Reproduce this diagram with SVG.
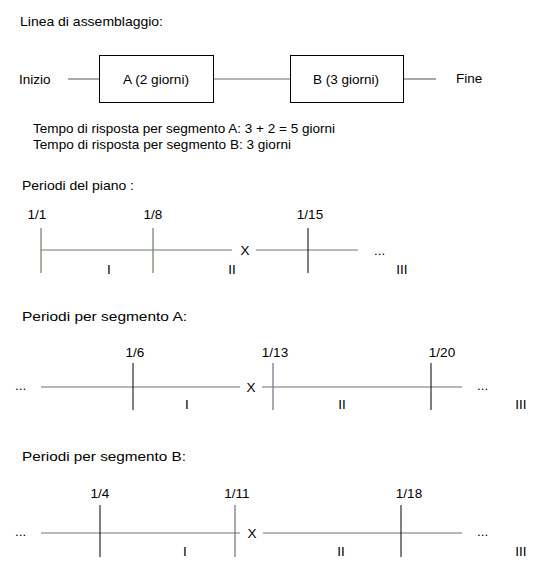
<svg xmlns="http://www.w3.org/2000/svg" width="540" height="570" viewBox="0 0 540 570">
<style>
text{font-family:"Liberation Sans",Arial,sans-serif;font-size:13.5px;fill:#000}
.box{fill:#fff;stroke:#000;stroke-width:1}
.ln{stroke:#6e6e6e;stroke-width:1.2;fill:none}
.g{stroke:#6b7d62}
.p{stroke:#7a6a82}
.k{stroke:#000;stroke-width:1;fill:none}
.m{text-anchor:middle}
</style>
<rect width="540" height="570" fill="#fff"/>
<text x="20" y="26" textLength="143" lengthAdjust="spacingAndGlyphs">Linea di assemblaggio:</text>
<g id="connectors">
<line class="ln p" x1="68" y1="79" x2="99" y2="79"/>
<line class="ln" x1="214" y1="79" x2="290" y2="79"/>
<line class="ln" x1="404" y1="79" x2="436" y2="79"/>
</g>
<g id="inizio"><text x="19" y="84">Inizio</text></g>
<g id="nodeA"><rect class="box" x="99.5" y="55.5" width="114" height="47"/><text x="123" y="84" textLength="66" lengthAdjust="spacingAndGlyphs">A (2 giorni)</text></g>
<g id="nodeB"><rect class="box" x="290.5" y="55.5" width="113" height="47"/><text x="313" y="84" textLength="66" lengthAdjust="spacingAndGlyphs">B (3 giorni)</text></g>
<g id="fine"><text x="456" y="83">Fine</text></g>
<text x="33" y="133" textLength="302" lengthAdjust="spacingAndGlyphs">Tempo di risposta per segmento A: 3 + 2 = 5 giorni</text>
<text x="33" y="149" textLength="258" lengthAdjust="spacingAndGlyphs">Tempo di risposta per segmento B: 3 giorni</text>

<text x="22" y="190" textLength="112" lengthAdjust="spacingAndGlyphs">Periodi del piano :</text>
<g id="piano">
<line class="ln g" x1="41" y1="250" x2="232" y2="250"/>
<line class="ln g" x1="256" y1="250" x2="358" y2="250"/>
<line class="ln g" x1="41" y1="228" x2="41" y2="273"/>
<line class="ln g" x1="153" y1="228" x2="153" y2="273"/>
<line class="k" x1="308" y1="228" x2="308" y2="273"/>
<text class="m" x="37" y="219">1/1</text>
<text class="m" x="153" y="219">1/8</text>
<text class="m" x="310" y="219">1/15</text>
<text class="m" x="245" y="255">X</text>
<text x="374" y="255">...</text>
<text class="m" x="109" y="274">I</text>
<text class="m" x="232" y="274">II</text>
<text class="m" x="402" y="274">III</text>
</g>

<text x="22" y="321" textLength="165" lengthAdjust="spacingAndGlyphs">Periodi per segmento A:</text>
<g id="segA">
<line class="ln" x1="41" y1="387" x2="240" y2="387"/>
<line class="ln" x1="262" y1="387" x2="462" y2="387"/>
<line class="k" x1="133" y1="363" x2="133" y2="410"/>
<line class="ln p" x1="273" y1="363" x2="273" y2="410"/>
<line class="k" x1="431" y1="363" x2="431" y2="410"/>
<text class="m" x="135" y="357">1/6</text>
<text class="m" x="275" y="357">1/13</text>
<text class="m" x="442" y="357">1/20</text>
<text x="15" y="390">...</text>
<text class="m" x="251" y="392">X</text>
<text x="477" y="390">...</text>
<text class="m" x="187" y="409">I</text>
<text class="m" x="342" y="409">II</text>
<text class="m" x="521" y="409">III</text>
</g>

<text x="22" y="461" textLength="164" lengthAdjust="spacingAndGlyphs">Periodi per segmento B:</text>
<g id="segB">
<line class="ln g" x1="41" y1="533" x2="240" y2="533"/>
<line class="ln" x1="263" y1="533" x2="462" y2="533"/>
<line class="k" x1="100" y1="505" x2="100" y2="557"/>
<line class="ln p" x1="235" y1="505" x2="235" y2="557"/>
<line class="k" x1="401" y1="505" x2="401" y2="557"/>
<text class="m" x="100" y="498">1/4</text>
<text class="m" x="237" y="498">1/11</text>
<text class="m" x="409" y="498">1/18</text>
<text x="15" y="536">...</text>
<text class="m" x="252" y="538">X</text>
<text x="477" y="536">...</text>
<text class="m" x="185" y="556">I</text>
<text class="m" x="341" y="556">II</text>
<text class="m" x="521" y="556">III</text>
</g>
</svg>
